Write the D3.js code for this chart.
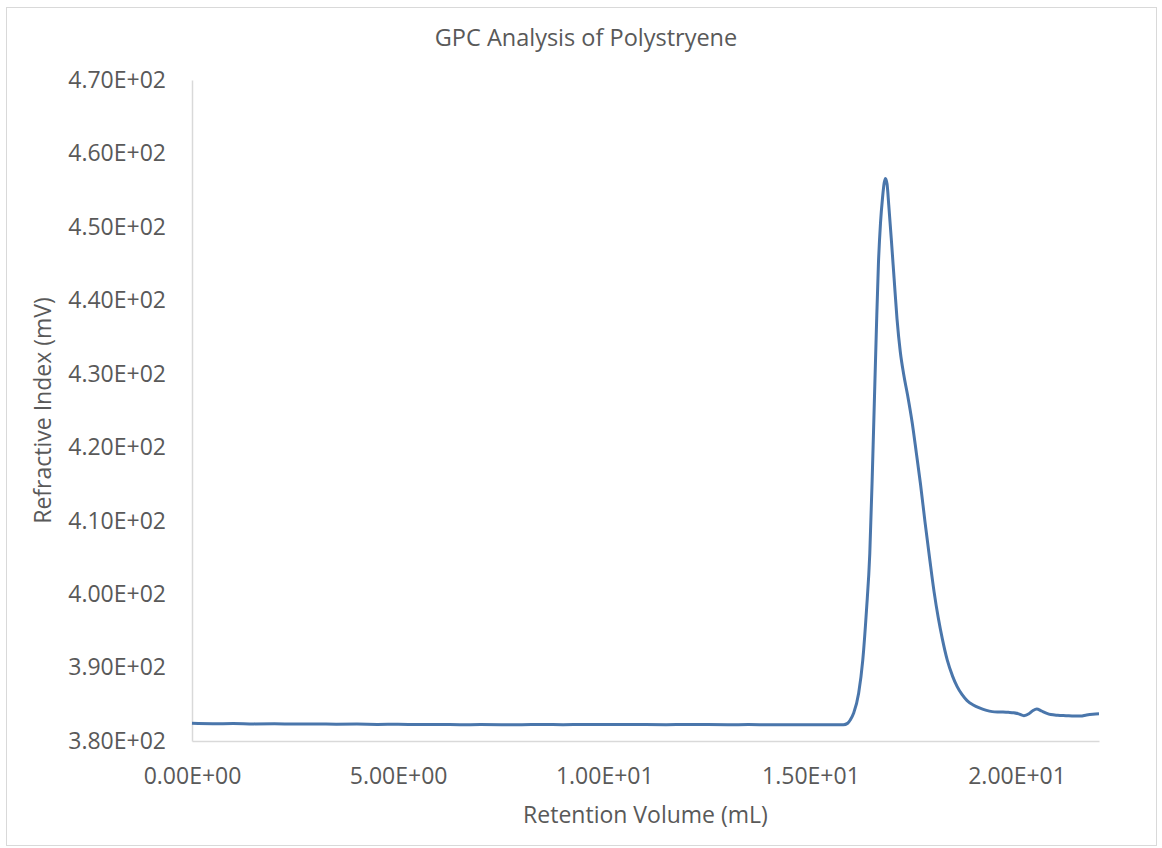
<!DOCTYPE html>
<html>
<head>
<meta charset="utf-8">
<script src="https://cdn.jsdelivr.net/npm/d3@7"></script>
<style>
  body { margin: 0; background: #fff; }
  text { font-family: "Open Sans", sans-serif; fill: #595959; }
</style>
</head>
<body>
<div id="gpcChart"></div>
<script>
// retention volume (mL)
var retentionVol = [0.0, 0.5, 1.0, 1.5, 2.0, 2.5, 3.0, 3.5, 4.0, 4.5, 5.0, 5.5, 6.0, 6.5, 7.0, 7.5,
    8.0, 8.5, 9.0, 9.5, 10.0, 10.5, 11.0, 11.5, 12.0, 12.5, 13.0, 13.5, 14.0, 14.5, 15.0, 15.5,
    15.8, 15.9, 15.97, 16.05, 16.17, 16.27, 16.36, 16.44, 16.50, 16.55, 16.60, 16.65, 16.70, 16.75,
    16.79, 16.82, 16.86, 16.90, 16.96, 17.03, 17.10, 17.18, 17.26, 17.36, 17.47, 17.57, 17.67, 17.78,
    17.90, 18.00, 18.10, 18.20, 18.32, 18.45, 18.56, 18.68, 18.80, 18.95, 19.10, 19.25, 19.41, 19.6, 19.8, 19.93,
    20.05, 20.18, 20.3, 20.4, 20.49, 20.6, 20.72, 20.83, 21.0, 21.2, 21.4, 21.55, 21.7, 21.85, 22.0];
// refractive index signal (mV)
var refIndex = [382.40, 382.35, 382.38, 382.33, 382.35, 382.30, 382.32, 382.28, 382.30, 382.26, 382.27, 382.24, 382.25, 382.22, 382.23, 382.21,
    382.22, 382.24, 382.22, 382.25, 382.23, 382.25, 382.24, 382.22, 382.24, 382.23, 382.21, 382.23, 382.22, 382.20, 382.22, 382.21,
    382.22, 382.40, 382.90, 383.80, 386.50, 391.00, 397.80, 405.50, 416.00, 426.00, 436.00, 445.00, 450.50, 454.00,
    456.00, 456.60, 455.80, 453.00, 448.50, 443.00, 437.50, 433.00, 430.00, 427.00, 423.30, 419.20, 415.00, 409.80,
    404.50, 400.30, 396.80, 393.90, 391.00, 388.80, 387.40, 386.30, 385.50, 384.90, 384.50, 384.20, 384.00, 383.95, 383.90, 383.85,
    383.70, 383.45, 383.70, 384.15, 384.35, 384.10, 383.80, 383.60, 383.50, 383.45, 383.40, 383.40, 383.55, 383.65, 383.70];
var xTicks = [0, 5, 10, 15, 20];
var yTicks = [380, 390, 400, 410, 420, 430, 440, 450, 460, 470];

var full_w = 1162, full_h = 848;
var margin = {top: 80, right: 63, bottom: 107, left: 192},
    width = full_w - margin.left - margin.right,
    height = full_h - margin.top - margin.bottom;

var svg = d3.select("#gpcChart")
  .append("svg")
    .attr("width", full_w)
    .attr("height", full_h);

// chart frame
svg.append("rect")
    .attr("x", 6.5).attr("y", 7.5)
    .attr("width", 1150).attr("height", 838)
    .attr("fill", "#fff")
    .attr("stroke", "#d9d9d9");

var g = svg.append("g")
    .attr("transform", "translate(" + margin.left + "," + margin.top + ")");

// Excel style scientific labels, e.g. 3.80E+02
function sci(v) {
    var parts = v.toExponential(2).split("e");
    var e = +parts[1];
    return parts[0] + "E" + (e < 0 ? "-" : "+") + String(Math.abs(e)).padStart(2, "0");
}

var x = d3.scaleLinear().domain([0, 22]).range([0, width]);
var y = d3.scaleLinear().domain([380, 470]).range([height, 0]);

// X axis
g.append("g")
    .attr("transform", "translate(0," + height + ")")
    .call(d3.axisBottom(x).tickValues(xTicks).tickFormat(sci).tickSize(0).tickPadding(27))
    .call(a => a.select(".domain").attr("stroke", "#d9d9d9").attr("stroke-width", 1.5))
    .selectAll("text")
      .style("font-size", "23px")
      .style("fill", "#595959");

// Y axis
g.append("g")
    .call(d3.axisLeft(y).tickValues(yTicks).tickFormat(sci).tickSize(0).tickPadding(26))
    .call(a => a.select(".domain").attr("stroke", "#d9d9d9").attr("stroke-width", 1.5))
    .selectAll("text")
      .style("font-size", "23px")
      .style("fill", "#595959");

var data = retentionVol.map((v, i) => ({vol: v, ri: refIndex[i]}));

g.append("path")
    .datum(data)
    .attr("fill", "none")
    .attr("stroke", "#4a76ab")
    .attr("stroke-width", 3)
    .attr("stroke-linejoin", "round")
    .attr("d", d3.line()
        .x(d => x(d.vol))
        .y(d => y(d.ri))
        .curve(d3.curveMonotoneX));

// titles
svg.append("text")
    .attr("x", 586).attr("y", 46)
    .style("text-anchor", "middle")
    .style("font-size", "23.5px")
    .text("GPC Analysis of Polystryene");

svg.append("text")
    .attr("x", margin.left + width / 2).attr("y", 823)
    .style("text-anchor", "middle")
    .style("font-size", "23px")
    .text("Retention Volume (mL)");

svg.append("text")
    .attr("transform", "translate(51," + (margin.top + height / 2) + ") rotate(-90)")
    .style("text-anchor", "middle")
    .style("font-size", "23px")
    .text("Refractive Index (mV)");
</script>
</body>
</html>
